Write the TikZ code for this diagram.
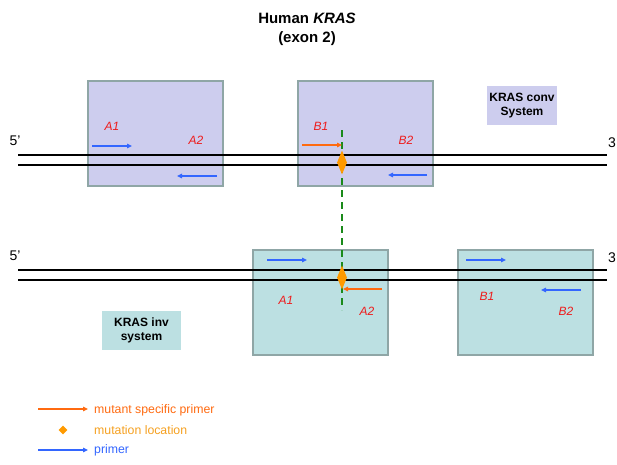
\documentclass[tikz,border=0pt]{standalone}
\usepackage{fontspec}
\setmainfont{Liberation Sans}
\usetikzlibrary{arrows.meta,shapes.geometric}
\definecolor{convfill}{HTML}{CDCDEE}
\definecolor{invfill}{HTML}{BCE0E2}
\definecolor{boxedge}{HTML}{8FA6A6}
\definecolor{pblue}{HTML}{3366FF}
\definecolor{porange}{HTML}{FF6A10}
\definecolor{dorange}{HTML}{FF9A00}
\definecolor{legorange}{HTML}{F5A020}
\definecolor{lgreen}{HTML}{1A8A1A}
\definecolor{lred}{HTML}{EE1C1C}
\tikzset{
  regionbox/.style={draw=boxedge, line width=1.5pt, inner sep=0pt, anchor=north west,
    minimum width=135pt, minimum height=105pt},
  convbox/.style={regionbox, fill=convfill},
  invbox/.style={regionbox, fill=invfill},
  sysbox/.style={inner sep=0pt, minimum width=#1, minimum height=39pt, align=center,
    font=\fontsize{12}{14}\selectfont\bfseries},
  strand/.style={line width=1.6pt, black},
  primerarrow/.style={line width=1.5pt, -{Triangle[length=5pt,width=4.5pt]}},
  bluep/.style={primerarrow, pblue},
  orangep/.style={primerarrow, porange},
  plabel/.style={text=lred, font=\fontsize{12}{14}\selectfont\itshape, inner sep=0pt},
  endlabel/.style={font=\fontsize{14}{16}\selectfont, inner sep=0pt},
  mutmark/.style={diamond, fill=dorange, inner sep=0pt, aspect=0.4,
    minimum width=10pt, minimum height=24pt},
  legtext/.style={font=\fontsize{12.3}{14}\selectfont, anchor=west, inner sep=0pt},
  mutline/.style={lgreen, line width=2pt, dash pattern=on 7pt off 5pt},
  titletext/.style={font=\fontsize{15}{18}\selectfont\bfseries, inner sep=0pt}
}
\begin{document}
\begin{tikzpicture}[x=1pt,y=-1pt]
\useasboundingbox (0,0) rectangle (617,464);
% title
\node[titletext] (title) at (307,18.5) {Human \textit{KRAS}};
\node[titletext] (title2) at (307,39) {(exon 2)};
% top (conv) boxes
\node[convbox] (c1) at (87,80) {};
\node[convbox] (c2) at (297,80) {};
\node[sysbox=70pt, fill=convfill] (convsys) at (522,105.5) {KRAS conv\\System};
% bottom (inv) boxes
\node[invbox] (i1) at (252,249) {};
\node[invbox] (i2) at (457,249) {};
\node[sysbox=79pt, fill=invfill] (invsys) at (141.5,330.5) {KRAS inv\\system};
% strands top
\coordinate (ta1) at (18,155); \coordinate (tb1) at (607,155);
\coordinate (ta2) at (18,165); \coordinate (tb2) at (607,165);
\draw[strand] (ta1) -- (tb1);
\draw[strand] (ta2) -- (tb2);
\node[endlabel] (t5) at (15,141) {5’};
\node[endlabel, anchor=west] (t3) at (608,143) {3};
% strands bottom
\coordinate (ba1) at (18,270); \coordinate (bb1) at (607,270);
\coordinate (ba2) at (18,280); \coordinate (bb2) at (607,280);
\draw[strand] (ba1) -- (bb1);
\draw[strand] (ba2) -- (bb2);
\node[endlabel] (b5) at (15,256) {5’};
\node[endlabel, anchor=west] (b3) at (608,258) {3};
% mutation line
\coordinate (mtop) at (342,130); \coordinate (mbot) at (342,310);
\draw[mutline] (mtop) -- (mbot);
% top primers
\coordinate (pa1s) at (92,146); \coordinate (pa1e) at (132,146);
\draw[bluep] (pa1s) -- (pa1e);
\coordinate (pa2s) at (217,176); \coordinate (pa2e) at (177,176);
\draw[bluep] (pa2s) -- (pa2e);
\node[plabel] (la1) at (112,126) {A1};
\node[plabel] (la2) at (196,140.5) {A2};
\coordinate (pb1s) at (302,145); \coordinate (pb1e) at (342,145);
\draw[orangep] (pb1s) -- (pb1e);
\coordinate (pb2s) at (427,175); \coordinate (pb2e) at (388,175);
\draw[bluep] (pb2s) -- (pb2e);
\node[plabel] (lb1) at (321,126) {B1};
\node[plabel] (lb2) at (406,140.5) {B2};
\node[mutmark] (mt) at (342,162.5) {};
% bottom primers
\coordinate (qa1s) at (267,260); \coordinate (qa1e) at (307,260);
\draw[bluep] (qa1s) -- (qa1e);
\coordinate (qa2s) at (382,289); \coordinate (qa2e) at (343,289);
\draw[orangep] (qa2s) -- (qa2e);
\node[plabel] (ma1) at (286,300) {A1};
\node[plabel] (ma2) at (367,311) {A2};
\node[mutmark] (mb) at (342,277.5) {};
\coordinate (qb1s) at (466,260); \coordinate (qb1e) at (506,260);
\draw[bluep] (qb1s) -- (qb1e);
\coordinate (qb2s) at (581,290); \coordinate (qb2e) at (541,290);
\draw[bluep] (qb2s) -- (qb2e);
\node[plabel] (mb1) at (487,296) {B1};
\node[plabel] (mb2) at (566,311) {B2};
% legend
\coordinate (l1s) at (38,409); \coordinate (l1e) at (88,409);
\draw[orangep, line width=1.2pt] (l1s) -- (l1e);
\node[legtext, text=porange] (lt1) at (94,410) {mutant specific primer};
\node[diamond, fill=dorange, inner sep=0pt, minimum width=9pt, minimum height=9pt] (ld) at (63,430) {};
\node[legtext, text=legorange] (lt2) at (94,430.5) {mutation location};
\coordinate (l3s) at (38,450); \coordinate (l3e) at (88,450);
\draw[bluep, line width=1.2pt] (l3s) -- (l3e);
\node[legtext, text=pblue] (lt3) at (94,450.5) {primer};
\end{tikzpicture}
\end{document}
